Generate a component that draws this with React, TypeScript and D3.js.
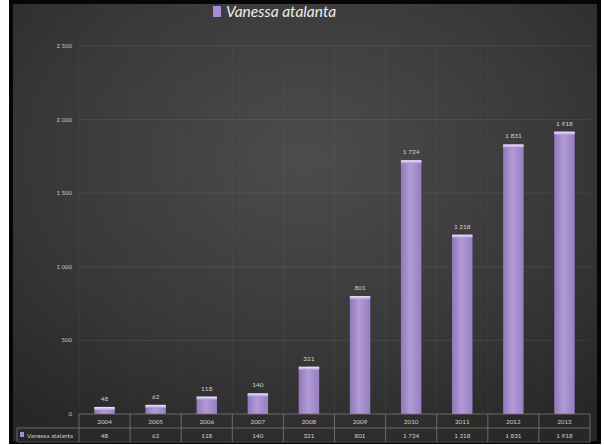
import React from "react";
import * as d3 from "d3";

const years = ["2004", "2005", "2006", "2007", "2008", "2009", "2010", "2011", "2012", "2013"];
const counts = [48, 62, 118, 140, 321, 801, 1724, 1218, 1831, 1918];
const yTicks = [0, 500, 1000, 1500, 2000, 2500];
const seriesName = "Vanessa atalanta";

const fmt = (v: number) => {
  const s = String(v);
  return s.length > 3 ? s.slice(0, s.length - 3) + " " + s.slice(-3) : s;
};

export default function App() {
  const W = 605, H = 445;
  const left = 79, right = 590, top = 46, bottom = 414;
  const x = d3.scaleBand().domain(years).range([left, right]).paddingInner(0.6).paddingOuter(0.3);
  const xc = d3.scaleBand().domain(years).range([left, right]);
  const y = d3.scaleLinear().domain([0, 2500]).range([bottom, top]);
  const row1 = bottom, row2 = 428, rowEnd = 442;
  const font = "Lato, 'Open Sans', sans-serif";
  return (
    <div style={{ position: "absolute", left: 0, top: 0, width: W, height: H, background: "#fff" }}>
      <svg width={W} height={H} style={{ display: "block" }}>
        <defs>
          <radialGradient id="bg" cx="0.5" cy="0.35" r="0.75">
            <stop offset="0" stopColor="#4c4c4c" />
            <stop offset="0.6" stopColor="#383838" />
            <stop offset="1" stopColor="#272727" />
          </radialGradient>
          <linearGradient id="bar" x1="0" x2="1" y1="0" y2="0">
            <stop offset="0" stopColor="#9178b8" />
            <stop offset="0.45" stopColor="#b29bd8" />
            <stop offset="1" stopColor="#977fc0" />
          </linearGradient>
          <linearGradient id="cap" x1="0" x2="0" y1="0" y2="1">
            <stop offset="0" stopColor="#f1e8ff" />
            <stop offset="1" stopColor="#b49cd8" />
          </linearGradient>
        </defs>
        <rect x={9} y={0} width={592} height={444} fill="#060606" />
        <rect x={13} y={4} width={584} height={437} fill="url(#bg)" />
        {/* title */}
        <rect x={213} y={6} width={8} height={11} fill="#a58bcf" />
        <text x={226} y={16.5} fill="#ececec" fontFamily={font} fontStyle="italic" fontSize={15.5}>
          {seriesName}
        </text>
        {/* vertical faint bands */}
        {years.map((yr) => (
          <line key={"v" + yr} x1={xc(yr)!} x2={xc(yr)!} y1={top} y2={bottom} stroke="#ffffff" strokeOpacity={0.04} />
        ))}
        {/* gridlines */}
        {yTicks.map((t) => (
          <g key={"g" + t}>
            {t > 0 && (
              <line x1={left} x2={right} y1={y(t)} y2={y(t)} stroke="#ffffff" strokeOpacity={0.08} />
            )}
            <text x={72} y={y(t) + 2} textAnchor="end" fill="#c8c8c8" fontFamily={font} fontSize={6}>
              {fmt(t)}
            </text>
          </g>
        ))}
        {/* bars */}
        {years.map((yr, i) => {
          const bx = x(yr)!, bw = x.bandwidth();
          const by = y(counts[i]);
          return (
            <g key={"b" + yr}>
              <rect x={bx} y={by} width={bw} height={bottom - by} fill="url(#bar)" />
              <rect x={bx} y={by} width={bw} height={3} fill="url(#cap)" />
              <text x={bx + bw / 2} y={by - 6} textAnchor="middle" fill="#d0d0d0" fontFamily={font} fontSize={6.5}>
                {fmt(counts[i])}
              </text>
            </g>
          );
        })}
        {/* data table */}
        <g stroke="#7a7a7a" strokeWidth={0.8} fill="none">
          <line x1={left} x2={right} y1={row1} y2={row1} />
          <line x1={17} x2={right} y1={row2} y2={row2} />
          <line x1={17} x2={right} y1={rowEnd} y2={rowEnd} />
          <line x1={17} x2={17} y1={row2} y2={rowEnd} />
          {years.map((yr) => (
            <line key={"t" + yr} x1={xc(yr)!} x2={xc(yr)!} y1={row1} y2={rowEnd} />
          ))}
          <line x1={right} x2={right} y1={row1} y2={rowEnd} />
        </g>
        {years.map((yr, i) => (
          <g key={"c" + yr} fontFamily={font} fontSize={6.3} fill="#d0d0d0" textAnchor="middle">
            <text x={xc(yr)! + xc.bandwidth() / 2} y={row1 + 9.5}>{yr}</text>
            <text x={xc(yr)! + xc.bandwidth() / 2} y={row2 + 9.5}>{fmt(counts[i])}</text>
          </g>
        ))}
        <rect x={20} y={432} width={4} height={5} fill="#a58bcf" />
        <text x={27} y={437.5} fill="#d0d0d0" fontFamily={font} fontSize={6.3}>{seriesName}</text>
      </svg>
    </div>
  );
}
